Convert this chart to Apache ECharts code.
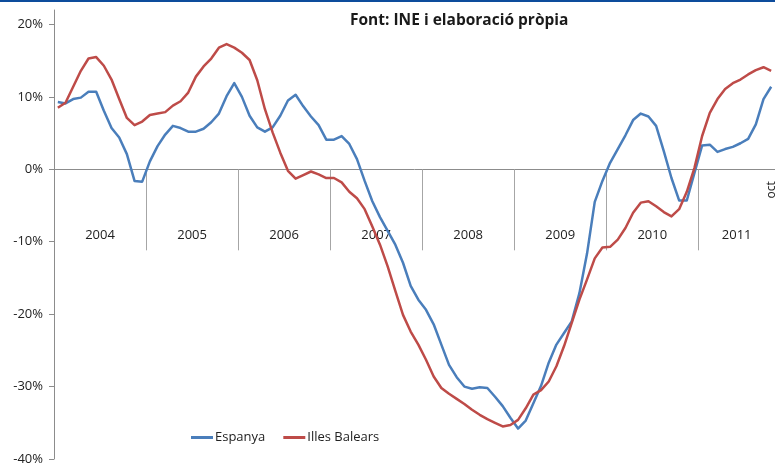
<!DOCTYPE html>
<html>
<head>
<meta charset="utf-8">
<script src="https://cdn.jsdelivr.net/npm/echarts@6/dist/echarts.min.js"></script>
<style>
  html, body {margin: 0; padding: 0; background: #fff;}
  #main {width: 775px; height: 463px;}
</style>
</head>
<body>
<div id="main"></div>
<script>
// monthly, Jan 2004 - Oct 2011
const years = ['2004', '2005', '2006', '2007', '2008', '2009', '2010', '2011'];
const monthNames = ['gen', 'feb', 'mar', 'abr', 'mai', 'jun', 'jul', 'ago', 'set', 'oct', 'nov', 'des'];
const yTicks = [-40, -30, -20, -10, 0, 10, 20];

const espanya = [
  9.3, 9.1, 9.7, 9.9, 10.7, 10.7, 8.1, 5.7, 4.4, 2.1, -1.6, -1.7,
  1.1, 3.2, 4.8, 6.0, 5.7, 5.2, 5.2, 5.6, 6.5, 7.7, 10.1, 11.9,
  10.0, 7.4, 5.8, 5.2, 5.8, 7.4, 9.5, 10.3, 8.7, 7.3, 6.1, 4.1,
  4.1, 4.6, 3.5, 1.4, -1.6, -4.4, -6.6, -8.5, -10.4, -12.9, -16.1, -18.0,
  -19.4, -21.4, -24.2, -27.0, -28.7, -30.0, -30.3, -30.1, -30.2, -31.4, -32.7, -34.3,
  -35.8, -34.7, -32.3, -29.9, -26.7, -24.2, -22.6, -21.0, -17.1, -11.6, -4.5, -1.6,
  0.9, 2.8, 4.7, 6.8, 7.7, 7.3, 6.0, 2.5, -1.2, -4.3, -4.3, -0.5,
  3.3, 3.4, 2.4, 2.8, 3.1, 3.6, 4.2, 6.2, 9.7, 11.4
];
const illesBalears = [
  8.5, 9.2, 11.4, 13.6, 15.3, 15.5, 14.3, 12.4, 9.7, 7.1, 6.1, 6.6,
  7.5, 7.7, 7.9, 8.8, 9.4, 10.6, 12.8, 14.2, 15.3, 16.8, 17.3, 16.8,
  16.1, 15.1, 12.3, 8.3, 5.1, 2.3, -0.2, -1.3, -0.8, -0.3, -0.7, -1.2,
  -1.2, -1.8, -3.1, -4.0, -5.5, -7.9, -10.4, -13.4, -16.8, -20.1, -22.4, -24.2,
  -26.3, -28.6, -30.2, -31.0, -31.7, -32.4, -33.2, -33.9, -34.5, -35.0, -35.5, -35.3,
  -34.6, -33.0, -31.1, -30.5, -29.3, -27.2, -24.4, -21.2, -18.0, -15.2, -12.3, -10.8,
  -10.7, -9.7, -8.1, -6.0, -4.6, -4.4, -5.1, -5.9, -6.5, -5.5, -3.1, 0.2,
  4.6, 7.8, 9.7, 11.1, 11.9, 12.4, 13.1, 13.7, 14.1, 13.6
];

const months = espanya.map((v, i) => monthNames[i % 12] + ' ' + years[Math.floor(i / 12)]);
const nMonths = months.length;
const yearStarts = years.map((y, i) => i * 12);
const yearMids = years.map((y, i) => (i * 12 + Math.min(i * 12 + 12, nMonths)) / 2);

// layout
const W = 775, H = 463;
const gridTop = 10, gridBottom = 4;
const yMin = -40, yMax = 22;
const plotH = H - gridTop - gridBottom;
// move the category axis up from the grid bottom to the 0% line
const zeroOffset = -plotH * (0 - yMin) / (yMax - yMin);

const font = '"Open Sans", sans-serif';
const chart = echarts.init(document.getElementById('main'));
chart.setOption({
  backgroundColor: '#fff',
  animation: false,
  title: {
    text: 'Font: INE i elaboració pròpia',
    left: 345,
    top: 8,
    textStyle: {fontFamily: font, fontSize: 15.5, fontWeight: 'bold', color: '#1a1a1a'}
  },
  graphic: [{
    type: 'rect',
    shape: {x: 0, y: 0, width: W, height: 2},
    style: {fill: '#0d4c9c'}
  }],
  legend: {
    left: 186,
    top: 426,
    icon: 'rect',
    itemWidth: 22,
    itemHeight: 3,
    itemGap: 18,
    textStyle: {fontFamily: font, fontSize: 13, color: '#222', padding: [0, 0, 0, -3]},
    data: ['Espanya', 'Illes Balears']
  },
  grid: {left: 54, right: 0, top: gridTop, bottom: gridBottom, outerBoundsMode: 'none'},
  xAxis: [
    {
      type: 'category',
      data: months,
      position: 'bottom',
      offset: zeroOffset,
      axisLine: {onZero: false, lineStyle: {color: '#8c8c8c', width: 1}},
      axisTick: {show: false},
      axisLabel: {
        interval: (i) => i === nMonths - 1,
        formatter: (v) => v.split(' ')[0],
        rotate: 90,
        margin: 12,
        fontFamily: font,
        fontSize: 12,
        color: '#222'
      },
      splitLine: {show: false}
    },
    {
      type: 'value',
      min: 0,
      max: nMonths,
      position: 'bottom',
      offset: zeroOffset,
      axisLine: {show: false, onZero: false},
      axisTick: {
        show: true,
        customValues: yearStarts.slice(1),
        length: 81,
        lineStyle: {color: '#a6a6a6', width: 1}
      },
      axisLabel: {
        customValues: yearMids,
        formatter: (v) => years[yearMids.indexOf(v)],
        margin: 59,
        fontFamily: font,
        fontSize: 13,
        color: '#222'
      },
      splitLine: {show: false}
    }
  ],
  yAxis: {
    type: 'value',
    min: yMin,
    max: yMax,
    axisLine: {show: true, onZero: false, lineStyle: {color: '#8c8c8c', width: 1}},
    axisTick: {show: true, customValues: yTicks, length: 5, lineStyle: {color: '#8c8c8c'}},
    axisLabel: {
      customValues: yTicks,
      formatter: '{value}%',
      margin: 11,
      fontFamily: font,
      fontSize: 13,
      color: '#222'
    },
    splitLine: {show: false}
  },
  series: [
    {
      name: 'Espanya',
      type: 'line',
      data: espanya,
      symbol: 'none',
      lineStyle: {color: '#4a7ebb', width: 2.5, join: 'round'},
      itemStyle: {color: '#4a7ebb'}
    },
    {
      name: 'Illes Balears',
      type: 'line',
      data: illesBalears,
      symbol: 'none',
      lineStyle: {color: '#be4b48', width: 2.5, join: 'round'},
      itemStyle: {color: '#be4b48'}
    }
  ]
});
</script>
</body>
</html>
